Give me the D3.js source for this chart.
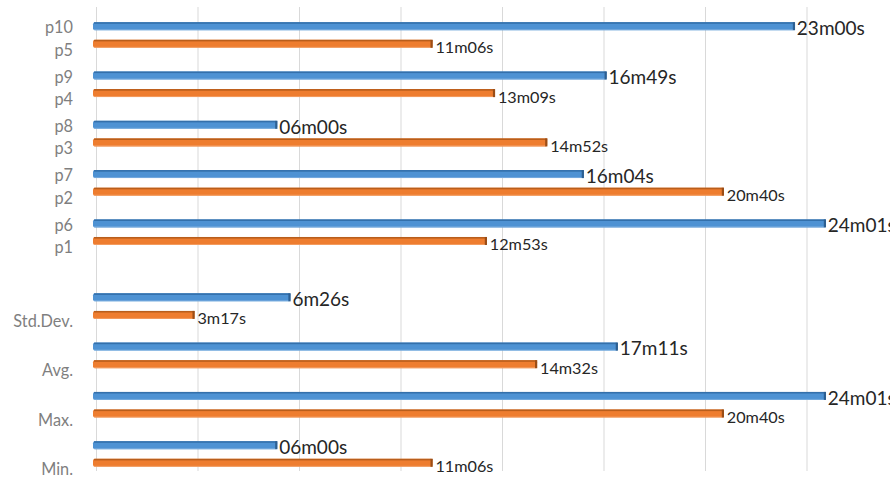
<!DOCTYPE html>
<html>
<head>
<meta charset="utf-8">
<script src="https://cdn.jsdelivr.net/npm/d3@7"></script>
<style>
  html, body { margin: 0; padding: 0; background: #ffffff; }
  svg { display: block; }
</style>
</head>
<body>
<div id="chart"></div>
<script>
// Run times per group: first (blue) and second (orange) bar of each row group
const primaryLabels   = ["p10", "p9", "p8", "p7", "p6", "", "", "", ""];
const secondaryLabels = ["p5", "p4", "p3", "p2", "p1", "Std.Dev.", "Avg.", "Max.", "Min."];
const primaryTimes    = ["23m00s", "16m49s", "06m00s", "16m04s", "24m01s", "6m26s", "17m11s", "24m01s", "06m00s"];
const secondaryTimes  = ["11m06s", "13m09s", "14m52s", "20m40s", "12m53s", "3m17s", "14m32s", "20m40s", "11m06s"];
const gridTicks       = [0, 200, 400, 600, 800, 1000, 1200, 1400];

const W = 890, H = 479;

// "23m00s" -> seconds
function toSeconds(s) {
  const m = /(\d+)m(\d+)s/.exec(s);
  return (+m[1]) * 60 + (+m[2]);
}

const svg = d3.select("#chart").append("svg")
  .attr("width", W).attr("height", H)
  .style("font-family", "Lato, 'Open Sans', sans-serif");

const x = d3.scaleLinear().domain([0, 1400]).range([94.5, 805]);

// group slots: the summary block sits half a step below the per-run block
const nRuns = 5;
const slot = i => i + (i >= nRuns ? 0.5 : 0);
const y = d3.scaleLinear().domain([0, 8.5]).range([35, 454]);

const barH = 8, pairOffset = 8.8;

const colors = {
  blue:   { body: "#4e92d3", top: "#3470ab", cap: "#2d5f91", low: "#7fb0e0" },
  orange: { body: "#ee7d2f", top: "#b95e1c", cap: "#9a4d16", low: "#f4a46b" }
};

// vertical gridlines (drawn slightly behind the bars' depth)
svg.append("g").selectAll("line")
  .data(gridTicks)
  .join("line")
  .attr("x1", d => x(d) + 2).attr("x2", d => x(d) + 2)
  .attr("y1", 7).attr("y2", 471)
  .attr("stroke", "#d9d9d9").attr("stroke-width", 1);

const rows = d3.range(primaryTimes.length).map(i => ({
  i,
  l1: primaryLabels[i], l2: secondaryLabels[i],
  t1: primaryTimes[i], t2: secondaryTimes[i],
  v1: toSeconds(primaryTimes[i]), v2: toSeconds(secondaryTimes[i])
}));

function drawBar(g, v, cy, c) {
  const x0 = x(0) - 1.5, x1 = x(v);
  const top = cy - barH / 2;
  g.append("rect").attr("x", x0).attr("y", top).attr("width", x1 - x0).attr("height", barH)
    .attr("rx", 2).attr("fill", c.body);
  g.append("rect").attr("x", x0 + 1).attr("y", top).attr("width", x1 - x0 - 1).attr("height", 1.6)
    .attr("fill", c.top);
  g.append("rect").attr("x", x0 + 1).attr("y", top + barH - 1).attr("width", x1 - x0 - 1).attr("height", 1)
    .attr("fill", c.low).attr("opacity", 0.8);
  g.append("rect").attr("x", x1 - 2).attr("y", top).attr("width", 2.2).attr("height", barH)
    .attr("fill", c.cap);
}

const gBars = svg.append("g");
rows.forEach(r => {
  const cy = y(slot(r.i));
  drawBar(gBars, r.v1, cy - pairOffset, colors.blue);
  drawBar(gBars, r.v2, cy + pairOffset, colors.orange);
});

// data labels
const gLab = svg.append("g");
rows.forEach(r => {
  const cy = y(slot(r.i));
  gLab.append("text")
    .attr("x", x(r.v1) + 2).attr("y", cy - pairOffset + 2)
    .attr("dy", "0.36em")
    .attr("font-size", 19).attr("fill", "#262626")
    .text(r.t1);
  gLab.append("text")
    .attr("x", x(r.v2) + 3).attr("y", cy + pairOffset + 3.6)
    .attr("dy", "0.36em")
    .attr("font-size", 16.2).attr("fill", "#262626")
    .text(r.t2);
});

// category labels (two lines per group)
const gCat = svg.append("g").attr("text-anchor", "end")
  .attr("font-size", 16.3).attr("fill", "#7f7f7f");
rows.forEach(r => {
  const cy = y(slot(r.i));
  if (r.l1) gCat.append("text").attr("x", 73).attr("y", cy - 7.5).attr("dy", "0.36em").text(r.l1);
  gCat.append("text").attr("x", 73).attr("y", cy + 15).attr("dy", "0.36em").text(r.l2);
});
</script>
</body>
</html>
